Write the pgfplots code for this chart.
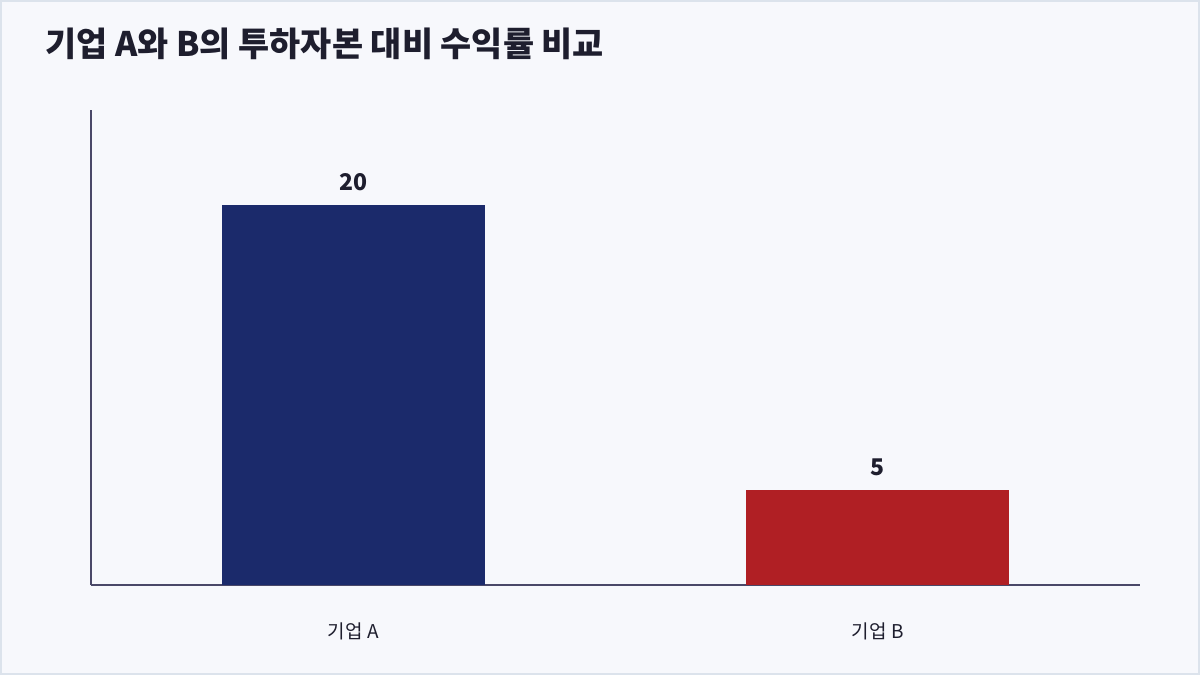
\documentclass[border=0pt]{standalone}
\usepackage{fontspec}
\setmainfont{Noto Sans CJK KR}
\usepackage{pgfplots}
\pgfplotsset{compat=1.18}
\definecolor{bgcol}{HTML}{F7F8FC}
\definecolor{framecol}{HTML}{DCE3EC}
\definecolor{axiscol}{HTML}{4A4868}
\definecolor{textcol}{HTML}{1E1E2E}
\definecolor{navybar}{HTML}{1B2A6B}
\definecolor{redbar}{HTML}{B01F24}

\begin{document}
\begin{tikzpicture}
% page 1200x675 px at 0.5pt per px
\fill[bgcol] (0,0) rectangle (600pt,337.5pt);
\draw[framecol, line width=1pt] (0.5pt,0.5pt) rectangle (599.5pt,337pt);
\node[anchor=base west, inner sep=0, text=textcol, font=\fontsize{16.9}{19}\selectfont\bfseries]
  at (22.5pt,309pt) {기업 A와 B의 투하자본 대비 수익률 비교};
\begin{axis}[
    at={(45.5pt,45pt)}, anchor=south west,
    scale only axis,
    width=524.5pt, height=237.5pt,
    ybar, bar width=131.5pt, bar shift=0pt,
    xmin=-0.5, xmax=1.5,
    ymin=0, ymax=25,
    axis x line*=bottom, axis y line*=left,
    axis line style={axiscol, line width=1pt, -},
    xtick={0,1}, xticklabels={기업 A, 기업 B},
    ytick=\empty,
    major tick length=0pt,
    xticklabel style={font=\fontsize{9.5}{11}\selectfont, text=textcol, yshift=-15.5pt},
    /pgf/number format/assume math mode=true,
    nodes near coords,
    every node near coord/.append style={font=\fontsize{11.5}{13}\selectfont\bfseries, text=textcol, yshift=3.5pt},
    clip=false,
]
\addplot[fill=navybar, draw=none] coordinates {(0,20)};
\addplot[fill=redbar, draw=none] coordinates {(1,5)};
\end{axis}
\end{tikzpicture}
\end{document}
